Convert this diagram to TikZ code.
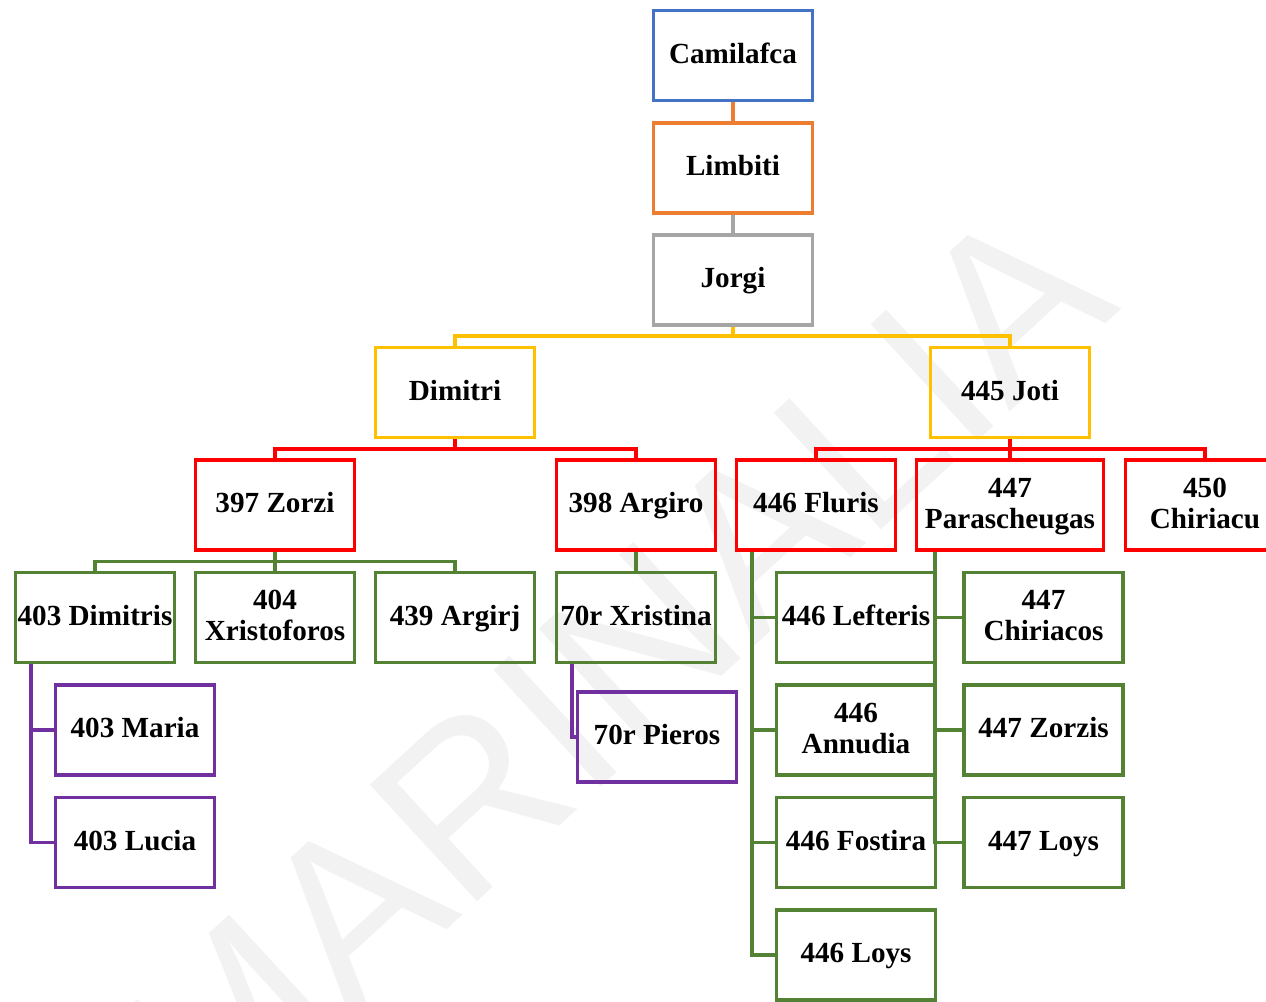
\documentclass[tikz,border=0pt]{standalone}
\usepackage{fontspec}
\setmainfont{Liberation Serif}
\newfontfamily\wmfont{Liberation Sans}
\usetikzlibrary{calc}
\definecolor{cblue}{HTML}{4472C4}
\definecolor{corange}{HTML}{ED7D31}
\definecolor{cgray}{HTML}{A5A5A5}
\definecolor{cyellow}{HTML}{FFC000}
\definecolor{cred}{HTML}{FF0000}
\definecolor{cgreen}{HTML}{548235}
\definecolor{cpurple}{HTML}{7030A0}
\definecolor{cwm}{HTML}{F2F2F2}
\newcommand\boxln{\rule[-4.4pt]{0pt}{17.6pt}}
\begin{document}
\begin{tikzpicture}[x=0.02cm,y=-0.02cm,
  box/.style={draw, line width=2.1pt, minimum width=3.18cm, minimum height=1.8cm,
    inner sep=1pt, align=center, font=\fontsize{16.6}{17.6}\selectfont\bfseries},
  widebox/.style={minimum width=3.74cm},
  link/.style={line width=2.1pt},
  wmark/.style={rotate=42.6, text=cwm, inner sep=0pt, font=\wmfont\fontsize{131}{131}\selectfont}
]
\useasboundingbox (0,0) rectangle (1266,1001);
\clip (0,0) rectangle (1266,1001);
\node[wmark] (wm) at (612,670) {MARINALIA};

% level 0-2
\node[box, draw=cblue]   (camilafca) at (733,55.5) {\boxln Camilafca};
\node[box, draw=corange] (limbiti)   at (733,168)  {\boxln Limbiti};
\node[box, draw=cgray]   (jorgi)     at (733,280)  {\boxln Jorgi};
% level 3
\node[box, draw=cyellow] (dimitri) at (455,392.5)  {\boxln Dimitri};
\node[box, draw=cyellow] (joti)    at (1010,392.5) {\boxln 445 Joti};
% level 4
\node[box, draw=cred] (zorzi)  at (275,505) {\boxln 397 Zorzi};
\node[box, draw=cred] (argiro) at (636,505) {\boxln 398 Argiro};
\node[box, draw=cred] (fluris) at (816,505) {\boxln 446 Fluris};
\node[box, widebox, draw=cred] (parasch) at (1010,505) {\boxln 447\\\boxln Parascheugas};
\node[box, draw=cred] (chiriacu) at (1205,505) {\boxln 450\\\boxln Chiriacu};
% level 5
\node[box, draw=cgreen] (dimitris) at (95,617.5)  {\boxln 403 Dimitris};
\node[box, draw=cgreen] (xristof)  at (275,617.5) {\boxln 404\\\boxln Xristoforos};
\node[box, draw=cgreen] (argirj)   at (455,617.5) {\boxln 439 Argirj};
\node[box, draw=cgreen] (xristina) at (636,617.5) {\boxln 70r Xristina};
\node[box, draw=cgreen] (lefteris) at (856,617.5) {\boxln 446 Lefteris};
\node[box, draw=cgreen] (annudia)  at (856,730)   {\boxln 446\\\boxln Annudia};
\node[box, draw=cgreen] (fostira)  at (856,842.5) {\boxln 446 Fostira};
\node[box, draw=cgreen] (loysf)    at (856,955)   {\boxln 446 Loys};
\node[box, draw=cgreen] (chiriacos) at (1043.5,617.5) {\boxln 447\\\boxln Chiriacos};
\node[box, draw=cgreen] (zorzis)    at (1043.5,730)   {\boxln 447 Zorzis};
\node[box, draw=cgreen] (loysp)     at (1043.5,842.5) {\boxln 447 Loys};
% level 6
\node[box, draw=cpurple] (maria)  at (135,730)   {\boxln 403 Maria};
\node[box, draw=cpurple] (lucia)  at (135,842.5) {\boxln 403 Lucia};
\node[box, draw=cpurple] (pieros) at (657,737)   {\boxln 70r Pieros};

% connectors
\draw[link, corange] (camilafca.south) -- (limbiti.north);
\draw[link, cgray] (limbiti.south) -- (jorgi.north);
\draw[link, cyellow] (jorgi.south) -- ++(0,9.5) -| (dimitri.north);
\draw[link, cyellow] (jorgi.south) -- ++(0,9.5) -| (joti.north);
\draw[link, cred] (dimitri.south) -- ++(0,9.5) -| (zorzi.north);
\draw[link, cred] (dimitri.south) -- ++(0,9.5) -| (argiro.north);
\draw[link, cred] (joti.south) -- ++(0,9.5) -| (fluris.north);
\draw[link, cred] (joti.south) -- ++(0,9.5) -| (parasch.north);
\draw[link, cred] (joti.south) -- ++(0,9.5) -| (chiriacu.north);
\draw[link, cgreen] (zorzi.south) -- ++(0,9.5) -| (dimitris.north);
\draw[link, cgreen] (zorzi.south) -- ++(0,9.5) -| (xristof.north);
\draw[link, cgreen] (zorzi.south) -- ++(0,9.5) -| (argirj.north);
\draw[link, cgreen] (argiro.south) -- (xristina.north);
\draw[link, cgreen] ($(fluris.south west)+(17,0)$) |- (lefteris.west);
\draw[link, cgreen] ($(fluris.south west)+(17,0)$) |- (annudia.west);
\draw[link, cgreen] ($(fluris.south west)+(17,0)$) |- (fostira.west);
\draw[link, cgreen] ($(fluris.south west)+(17,0)$) |- (loysf.west);
\draw[link, cgreen] ($(parasch.south west)+(20,0)$) |- (chiriacos.west);
\draw[link, cgreen] ($(parasch.south west)+(20,0)$) |- (zorzis.west);
\draw[link, cgreen] ($(parasch.south west)+(20,0)$) |- (loysp.west);
\draw[link, cpurple] ($(dimitris.south west)+(17,0)$) |- (maria.west);
\draw[link, cpurple] ($(dimitris.south west)+(17,0)$) |- (lucia.west);
\draw[link, cpurple] ($(xristina.south west)+(17,0)$) |- (pieros.west);
\end{tikzpicture}
\end{document}
